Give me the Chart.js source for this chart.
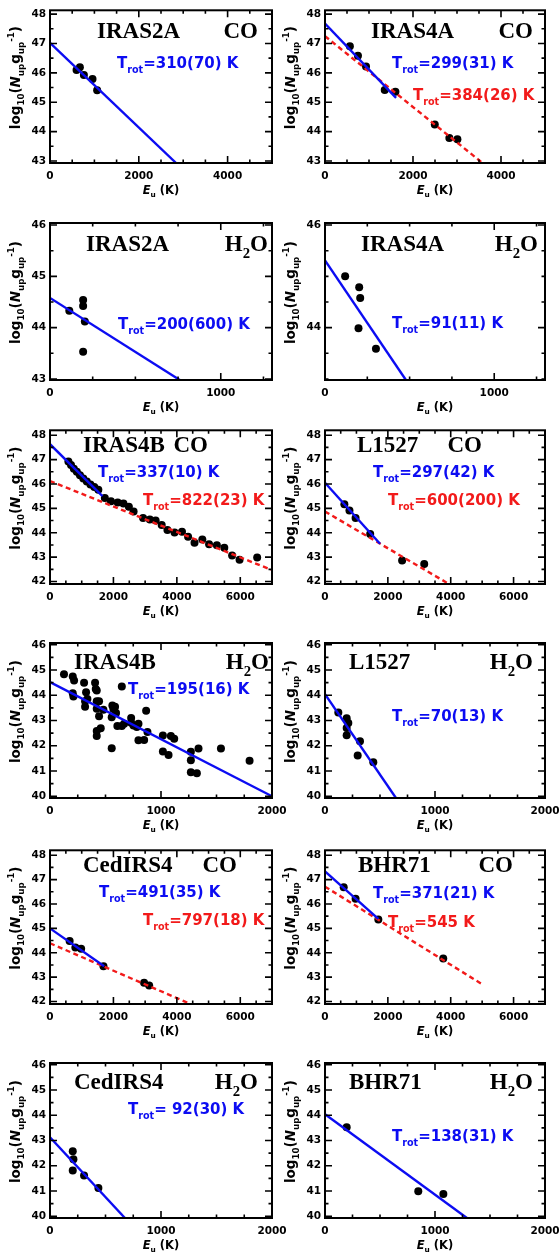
<!DOCTYPE html>
<html>
<head>
<meta charset="utf-8">
<script src="https://cdn.jsdelivr.net/npm/chart.js@4/dist/chart.umd.min.js"></script>
<style>
  html, body { margin: 0; padding: 0; background: #fff; overflow: hidden; }
  #wrap { position: relative; width: 560px; height: 1260px; }
  .panel { position: absolute; width: 300px; height: 210px; }
</style>
</head>
<body>
<div id="wrap"></div>
<script>
/* ============================================
   DATA  (E_up in K, log10(N_up/g_up))
   ============================================ */

// IRAS2A CO
const iras2aCoEu = [598, 673, 763, 957, 1062];
const iras2aCoN = [46.10, 46.19, 45.93, 45.79, 45.41];
const iras2aCoFitEu = [0, 2840];
const iras2aCoFitN = [47.02, 42.93];

// IRAS4A CO
const iras4aCoEu = [565, 749, 932, 1358, 1600, 2495, 2826, 3009];
const iras4aCoN = [46.91, 46.58, 46.22, 45.42, 45.36, 44.24, 43.78, 43.74];
const iras4aCoWarmEu = [0, 1615];
const iras4aCoWarmN = [47.68, 45.15];
const iras4aCoHotEu = [0, 3580];
const iras4aCoHotN = [47.25, 42.93];

// IRAS2A H2O
const iras2aH2oEu = [113, 194, 194, 204, 194];
const iras2aH2oN = [44.33, 44.54, 44.42, 44.12, 43.53];
const iras2aH2oFitEu = [0, 760];
const iras2aH2oFitN = [44.58, 42.98];

// IRAS4A H2O
const iras4aH2oEu = [119, 202, 208, 198, 301];
const iras4aH2oN = [45.00, 44.79, 44.58, 43.99, 43.59];
const iras4aH2oFitEu = [0, 478];
const iras4aH2oFitN = [45.31, 42.98];

// IRAS4B CO
const iras4bCoEu = [580, 663, 752, 846, 945, 1050, 1160, 1276, 1397, 1524,
  1729, 1921, 2134, 2316, 2487, 2636, 2935, 3148, 3330, 3522, 3703, 3927,
  4162, 4354, 4557, 4803, 5016, 5261, 5496, 5742, 5977, 6532];
const iras4bCoN = [46.92, 46.78, 46.62, 46.50, 46.36, 46.22, 46.10, 45.98, 45.88, 45.76,
  45.43, 45.29, 45.24, 45.20, 45.07, 44.87, 44.61, 44.54, 44.50, 44.32, 44.11, 44.01,
  44.04, 43.84, 43.59, 43.72, 43.53, 43.49, 43.39, 43.07, 42.89, 42.99];
const iras4bCoWarmEu = [0, 1654];
const iras4bCoWarmN = [47.63, 45.50];
const iras4bCoHotEu = [0, 7000];
const iras4bCoHotN = [46.12, 42.47];

// L1527 CO
const l1527CoEu = [616, 778, 973, 1438, 2454, 3157];
const l1527CoN = [45.17, 44.91, 44.61, 43.95, 42.86, 42.72];
const l1527CoWarmEu = [0, 1751];
const l1527CoWarmN = [46.05, 43.55];
const l1527CoHotEu = [0, 3946];
const l1527CoHotN = [44.87, 41.90];

// IRAS4B H2O
const iras4bH2oEu = [126, 205, 217, 205, 211, 307, 325, 316, 316, 337,
  406, 412, 421, 421, 442, 421, 442, 421, 421, 457,
  481, 562, 571, 586, 595, 556, 556, 607, 647, 647,
  668, 731, 731, 752, 782, 797, 797, 848, 866, 878,
  1017, 1017, 1068, 1089, 1119, 1269, 1269, 1269, 1323, 1338,
  1540, 1798];
const iras4bH2oN = [44.83, 44.74, 44.58, 44.08, 43.95, 44.50, 44.12, 43.76, 43.54, 43.85,
  44.50, 44.25, 44.19, 43.76, 43.76, 43.47, 43.17, 42.58, 42.39, 42.69,
  43.43, 43.59, 43.46, 43.54, 43.30, 43.13, 41.90, 42.78, 44.35, 42.78,
  42.87, 43.10, 42.91, 42.80, 42.74, 42.87, 42.22, 42.23, 43.39, 42.54,
  42.41, 41.77, 41.63, 42.39, 42.28, 41.76, 41.43, 40.95, 40.91, 41.89,
  41.89, 41.41];
const iras4bH2oFitEu = [0, 2000];
const iras4bH2oFitN = [44.52, 40.00];

// L1527 H2O
const l1527H2oEu = [121, 197, 212, 197, 197, 318, 297, 439];
const l1527H2oN = [43.32, 43.09, 42.90, 42.70, 42.42, 42.18, 41.61, 41.35];
const l1527H2oFitEu = [0, 645];
const l1527H2oFitN = [44.04, 39.93];

// CedIRS4 CO
const cedCoEu = [619, 800, 982, 1686, 2967, 3127];
const cedCoN = [44.48, 44.22, 44.16, 43.45, 42.77, 42.66];
const cedCoWarmEu = [0, 1708];
const cedCoWarmN = [45.00, 43.45];
const cedCoHotEu = [0, 4429];
const cedCoHotN = [44.39, 41.90];

// BHR71 CO
const bhrCoEu = [595, 973, 1697, 3762];
const bhrCoN = [46.69, 46.21, 45.36, 43.77];
const bhrCoWarmEu = [0, 1697];
const bhrCoWarmN = [47.34, 45.39];
const bhrCoHotEu = [0, 4973];
const bhrCoHotN = [46.71, 42.73];

// CedIRS4 H2O
const cedH2oEu = [205, 211, 205, 307, 436];
const cedH2oN = [42.57, 42.26, 41.81, 41.61, 41.12];
const cedH2oFitEu = [0, 675];
const cedH2oFitN = [43.13, 39.93];

// BHR71 H2O
const bhrH2oEu = [197, 848, 1076];
const bhrH2oN = [43.52, 40.99, 40.88];
const bhrH2oFitEu = [0, 1290];
const bhrH2oFitN = [44.04, 39.93];


/* ============================================
   LAYOUT / STYLE
   ============================================ */

const BLUE = "#0c0cf2";
const RED = "#f21a1a";
const SANS = "'DejaVu Sans'";
const SERIF = "'Liberation Serif'";

const areaLeft = [50, 45];
const areaRight = [272, 265];
const areaTop = [5, 13, 5, 13, 5, 13];
const areaBot = [163, 170, 164, 168, 164, 168];

const CO = [{ t: "CO" }];
const H2O = [{ t: "H" }, { t: "2", sub: true }, { t: "O" }];

const panels = [
  { col: 0, row: 0, xMax: 5000, yMin: 42.93, yMax: 48.13, xMajor: 2000, xMinor: 500, yMajor: 1,
    pts: [iras2aCoEu, iras2aCoN], blue: [iras2aCoFitEu, iras2aCoFitN],
    name: "IRAS2A", nameX: 97, mol: CO, molR: 258, titleY: 38,
    notes: [{ c: BLUE, t: "=310(70) K", x: 117, y: 68 }] },
  { col: 1, row: 0, xMax: 5000, yMin: 42.93, yMax: 48.13, xMajor: 2000, xMinor: 500, yMajor: 1,
    pts: [iras4aCoEu, iras4aCoN], blue: [iras4aCoWarmEu, iras4aCoWarmN], red: [iras4aCoHotEu, iras4aCoHotN],
    name: "IRAS4A", nameX: 91, mol: CO, molR: 253, titleY: 38,
    notes: [{ c: BLUE, t: "=299(31) K", x: 112, y: 68 }, { c: RED, t: "=384(26) K", x: 133, y: 100 }] },
  { col: 0, row: 1, xMax: 1300, yMin: 42.98, yMax: 46.04, xMajor: 1000, xMinor: 250, yMajor: 1,
    pts: [iras2aH2oEu, iras2aH2oN], blue: [iras2aH2oFitEu, iras2aH2oFitN],
    name: "IRAS2A", nameX: 86, mol: H2O, molR: 268, titleY: 41,
    notes: [{ c: BLUE, t: "=200(600) K", x: 118, y: 119 }] },
  { col: 1, row: 1, xMax: 1300, yMin: 42.98, yMax: 46.04, xMajor: 1000, xMinor: 250, yMajor: 2,
    pts: [iras4aH2oEu, iras4aH2oN], blue: [iras4aH2oFitEu, iras4aH2oFitN],
    name: "IRAS4A", nameX: 81, mol: H2O, molR: 258, titleY: 41,
    notes: [{ c: BLUE, t: "=91(11) K", x: 112, y: 118 }] },
  { col: 0, row: 2, xMax: 7000, yMin: 41.9, yMax: 48.2, xMajor: 2000, xMinor: 500, yMajor: 1,
    pts: [iras4bCoEu, iras4bCoN], blue: [iras4bCoWarmEu, iras4bCoWarmN], red: [iras4bCoHotEu, iras4bCoHotN],
    name: "IRAS4B", nameX: 83, mol: CO, molR: 208, titleY: 32,
    notes: [{ c: BLUE, t: "=337(10) K", x: 98, y: 57 }, { c: RED, t: "=822(23) K", x: 143, y: 85 }] },
  { col: 1, row: 2, xMax: 7000, yMin: 41.9, yMax: 48.2, xMajor: 2000, xMinor: 500, yMajor: 1,
    pts: [l1527CoEu, l1527CoN], blue: [l1527CoWarmEu, l1527CoWarmN], red: [l1527CoHotEu, l1527CoHotN],
    name: "L1527", nameX: 77, mol: CO, molR: 202, titleY: 32,
    notes: [{ c: BLUE, t: "=297(42) K", x: 93, y: 57 }, { c: RED, t: "=600(200) K", x: 108, y: 85 }] },
  { col: 0, row: 3, xMax: 2000, yMin: 39.93, yMax: 46.07, xMajor: 1000, xMinor: 250, yMajor: 1,
    pts: [iras4bH2oEu, iras4bH2oN], blue: [iras4bH2oFitEu, iras4bH2oFitN],
    name: "IRAS4B", nameX: 74, mol: H2O, molR: 269, titleY: 39,
    notes: [{ c: BLUE, t: "=195(16) K", x: 128, y: 64 }] },
  { col: 1, row: 3, xMax: 2000, yMin: 39.93, yMax: 46.07, xMajor: 1000, xMinor: 250, yMajor: 1,
    pts: [l1527H2oEu, l1527H2oN], blue: [l1527H2oFitEu, l1527H2oFitN],
    name: "L1527", nameX: 69, mol: H2O, molR: 253, titleY: 39,
    notes: [{ c: BLUE, t: "=70(13) K", x: 112, y: 91 }] },
  { col: 0, row: 4, xMax: 7000, yMin: 41.9, yMax: 48.2, xMajor: 2000, xMinor: 500, yMajor: 1,
    pts: [cedCoEu, cedCoN], blue: [cedCoWarmEu, cedCoWarmN], red: [cedCoHotEu, cedCoHotN],
    name: "CedIRS4", nameX: 83, mol: CO, molR: 237, titleY: 32,
    notes: [{ c: BLUE, t: "=491(35) K", x: 99, y: 57 }, { c: RED, t: "=797(18) K", x: 143, y: 85 }] },
  { col: 1, row: 4, xMax: 7000, yMin: 41.9, yMax: 48.2, xMajor: 2000, xMinor: 500, yMajor: 1,
    pts: [bhrCoEu, bhrCoN], blue: [bhrCoWarmEu, bhrCoWarmN], red: [bhrCoHotEu, bhrCoHotN],
    name: "BHR71", nameX: 78, mol: CO, molR: 233, titleY: 32,
    notes: [{ c: BLUE, t: "=371(21) K", x: 93, y: 58 }, { c: RED, t: "=545 K", x: 108, y: 87 }] },
  { col: 0, row: 5, xMax: 2000, yMin: 39.93, yMax: 46.07, xMajor: 1000, xMinor: 250, yMajor: 1,
    pts: [cedH2oEu, cedH2oN], blue: [cedH2oFitEu, cedH2oFitN],
    name: "CedIRS4", nameX: 74, mol: H2O, molR: 258, titleY: 39,
    notes: [{ c: BLUE, t: "= 92(30) K", x: 128, y: 64 }] },
  { col: 1, row: 5, xMax: 2000, yMin: 39.93, yMax: 46.07, xMajor: 1000, xMinor: 250, yMajor: 1,
    pts: [bhrH2oEu, bhrH2oN], blue: [bhrH2oFitEu, bhrH2oFitN],
    name: "BHR71", nameX: 69, mol: H2O, molR: 253, titleY: 39,
    notes: [{ c: BLUE, t: "=138(31) K", x: 112, y: 91 }] }
];


/* ============================================
   HELPERS
   ============================================ */

// text with sub/superscripts, drawn piece by piece
function richText(ctx, segs, x, y, size, family, color, align) {
  const fontFor = s => (s.it ? "italic " : "") + "bold " +
    ((s.sub || s.sup) ? size * 0.64 : size) + "px " + family;
  let total = 0;
  const widths = segs.map(s => {
    ctx.font = fontFor(s);
    const w = ctx.measureText(s.t).width;
    total += w;
    return w;
  });
  let cx = align === "right" ? x - total : align === "center" ? x - total / 2 : x;
  ctx.fillStyle = color;
  ctx.textAlign = "left";
  ctx.textBaseline = "alphabetic";
  segs.forEach((s, i) => {
    ctx.font = fontFor(s);
    const dy = s.sub ? size * 0.3 : s.sup ? -size * 0.42 : 0;
    ctx.fillText(s.t, cx, y + dy);
    cx += widths[i];
  });
}

function toXY(pair) {
  return pair[0].map((e, i) => ({ x: e, y: pair[1][i] }));
}

// major tick values only, so labels sit on round numbers
function majorTicks(step) {
  return function (scale) {
    const out = [];
    for (let v = Math.ceil(scale.min / step - 1e-9) * step; v <= scale.max + 1e-9; v += step) {
      out.push({ value: Math.round(v * 1000) / 1000 });
    }
    scale.ticks = out;
  };
}

// IDL style box with inward ticks + all the panel texts
function idlFrame(p) {
  return {
    id: "idlFrame",
    afterDraw(chart) {
      const { ctx, chartArea: a, scales: { x, y } } = chart;
      ctx.save();
      ctx.strokeStyle = "#000";
      ctx.lineWidth = 2;
      ctx.strokeRect(a.left, a.top, a.right - a.left, a.bottom - a.top);

      ctx.beginPath();
      for (let v = 0; v <= p.xMax + 1e-6; v += p.xMinor) {
        const px = x.getPixelForValue(v);
        const major = Math.abs(v / p.xMajor - Math.round(v / p.xMajor)) < 1e-6;
        const len = major ? 7 : 3.5;
        ctx.moveTo(px, a.bottom); ctx.lineTo(px, a.bottom - len);
        ctx.moveTo(px, a.top); ctx.lineTo(px, a.top + len);
      }
      for (let v = Math.ceil(p.yMin * 2) / 2; v <= p.yMax + 1e-6; v += 0.5) {
        const py = y.getPixelForValue(v);
        const major = Math.abs(v / p.yMajor - Math.round(v / p.yMajor)) < 1e-6;
        const len = major ? 7 : 3.5;
        ctx.moveTo(a.left, py); ctx.lineTo(a.left + len, py);
        ctx.moveTo(a.right, py); ctx.lineTo(a.right - len, py);
      }
      ctx.lineWidth = 1.6;
      ctx.stroke();

      // titles
      richText(ctx, [{ t: p.name }], p.nameX, p.titleY, 23, SERIF, "#000", "left");
      richText(ctx, p.mol, p.molR, p.titleY, 23, SERIF, "#000", "right");

      // T_rot notes
      p.notes.forEach(n => {
        richText(ctx, [{ t: "T" }, { t: "rot", sub: true }, { t: n.t }], n.x, n.y, 15, SANS, n.c, "left");
      });

      // x axis title
      richText(ctx, [{ t: "E", it: true }, { t: "u", sub: true }, { t: " (K)" }],
        (a.left + a.right) / 2, a.bottom + 31, 11.5, SANS, "#000", "center");

      // y axis title
      ctx.translate(a.left - 30, (a.top + a.bottom) / 2 - 9);
      ctx.rotate(-Math.PI / 2);
      richText(ctx, [{ t: "log" }, { t: "10", sub: true }, { t: "(" }, { t: "N", it: true },
        { t: "up", sub: true }, { t: "g" }, { t: "up", sub: true }, { t: "-1", sup: true }, { t: ")" }],
        0, 0, 13.5, SANS, "#000", "center");
      ctx.restore();
    }
  };
}


/* ============================================
   CHARTS
   ============================================ */

const wrap = document.getElementById("wrap");
const tickFont = { family: "DejaVu Sans", weight: "bold", size: 10.5 };

panels.forEach(function (p) {
  const box = document.createElement("div");
  box.className = "panel";
  box.style.left = (p.col * 280) + "px";
  box.style.top = (p.row * 210) + "px";
  const cv = document.createElement("canvas");
  cv.width = 300;
  cv.height = 210;
  cv.style.width = "300px";
  cv.style.height = "210px";
  box.appendChild(cv);
  wrap.appendChild(box);

  const left = areaLeft[p.col], right = areaRight[p.col];
  const top = areaTop[p.row], bottom = areaBot[p.row];

  const datasets = [{
    data: toXY(p.pts),
    showLine: false,
    pointRadius: 4,
    pointBackgroundColor: "#000",
    pointBorderWidth: 0,
    order: 3
  }];
  if (p.red) {
    datasets.push({
      data: toXY(p.red), showLine: true, pointRadius: 0,
      borderColor: RED, borderWidth: 2.4, borderDash: [5, 3.5], order: 2
    });
  }
  datasets.push({
    data: toXY(p.blue), showLine: true, pointRadius: 0,
    borderColor: BLUE, borderWidth: 2.4, order: 1
  });

  new Chart(cv, {
    type: "scatter",
    data: { datasets: datasets },
    options: {
      responsive: false,
      animation: false,
      devicePixelRatio: 1,
      events: [],
      layout: { autoPadding: false, padding: { left: 0, top: top, right: 300 - right, bottom: 0 } },
      plugins: { legend: { display: false }, tooltip: { enabled: false } },
      scales: {
        x: {
          type: "linear", min: 0, max: p.xMax,
          grid: { display: false, drawTicks: false },
          border: { display: false },
          afterFit: s => { s.height = 210 - bottom; },
          afterBuildTicks: majorTicks(p.xMajor),
          ticks: {
            autoSkip: false, maxRotation: 0,
            padding: 7, color: "#000", font: tickFont,
            callback: v => String(v)
          }
        },
        y: {
          type: "linear", min: p.yMin, max: p.yMax,
          grid: { display: false, drawTicks: false },
          border: { display: false },
          afterFit: s => { s.width = left; },
          afterBuildTicks: majorTicks(p.yMajor),
          ticks: {
            autoSkip: false,
            padding: 4, color: "#000", font: tickFont,
            callback: v => String(v)
          }
        }
      }
    },
    plugins: [idlFrame(p)]
  });
});
</script>
</body>
</html>
